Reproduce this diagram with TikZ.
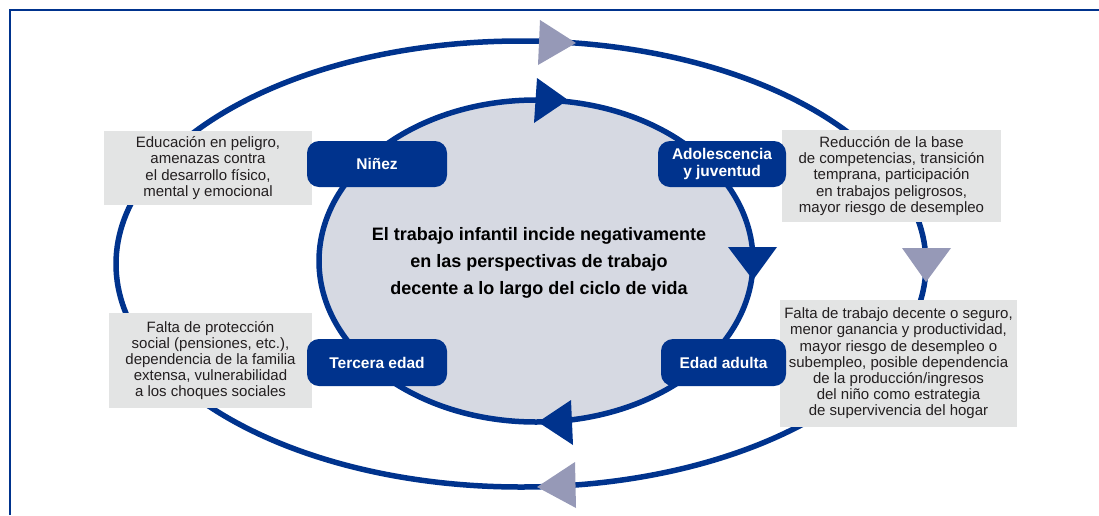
\documentclass[tikz,border=0pt]{standalone}
\usepackage{fontspec}
\setmainfont{Liberation Sans}
\definecolor{ilo}{RGB}{0,51,141}
\definecolor{arrg}{RGB}{150,153,183}
\definecolor{innerf}{RGB}{214,217,226}
\definecolor{boxg}{RGB}{227,228,228}
\definecolor{txt}{RGB}{35,31,32}
\begin{document}
\begin{tikzpicture}[x=1pt,y=-1pt,
  stage/.style={fill=ilo, rounded corners=12pt, text=white,
    font=\fontsize{15.5}{17}\selectfont\bfseries, align=center, inner sep=0pt},
  note/.style={fill=boxg, text=txt, font=\fontsize{15}{16.2}\selectfont,
    align=center, inner sep=0pt},
  ring/.style={draw=ilo, line width=5.5pt},
  darrow/.style={fill=ilo},
  larrow/.style={fill=arrg}]
\useasboundingbox (0,0) rectangle (1099,515);
% frame
\draw[ilo, line width=2.5pt] (10,515) -- (10,10) -- (1099,10);
% outer ring
\coordinate (oc) at (521,264);
\draw[ring] (oc) ellipse [x radius=405pt, y radius=223pt];
% notes
\node[note, minimum width=208pt, minimum height=74pt] (n1) at (208,168)
  {Educación en peligro,\\amenazas contra\\el desarrollo físico,\\mental y emocional};
\node[note, minimum width=219pt, minimum height=92pt] (n2) at (891.5,176)
  {Reducción de la base\\de competencias, transición\\temprana, participación\\en trabajos peligrosos,\\mayor riesgo de desempleo};
\node[note, minimum width=203pt, minimum height=95pt] (n3) at (210.5,360.5)
  {Falta de protección\\social (pensiones, etc.),\\dependencia de la familia\\extensa, vulnerabilidad\\a los choques sociales};
\node[note, minimum width=237pt, minimum height=127pt] (n4) at (898.5,363.5)
  {Falta de trabajo decente o seguro,\\menor ganancia y productividad,\\mayor riesgo de desempleo o\\subempleo, posible dependencia\\de la producción/ingresos\\del niño como estrategia\\de supervivencia del hogar};
% inner ring
\coordinate (ic) at (536,261);
\draw[ring, fill=innerf] (ic) ellipse [x radius=217pt, y radius=161pt];
\node[text=black, font=\fontsize{18}{27}\selectfont\bfseries, align=center] (ct) at (539,263)
  {El trabajo infantil incide negativamente\\en las perspectivas de trabajo\\decente a lo largo del ciclo de vida};
% stage labels
\node[stage, minimum width=140pt, minimum height=46pt] (s1) at (377,164) {Niñez};
\node[stage, minimum width=128pt, minimum height=46pt] (s2) at (722,164) {Adolescencia\\y juventud};
\node[stage, minimum width=125pt, minimum height=47pt] (s3) at (723.5,362.5) {Edad adulta};
\node[stage, minimum width=140pt, minimum height=47pt] (s4) at (377,362.5) {Tercera edad};
% outer arrowheads
\fill[larrow] (540,20) -- (576,43) -- (538,65) -- cycle;
\fill[larrow] (902,248) -- (951,248) -- (926,282) -- cycle;
\fill[larrow] (575,462) -- (537,487) -- (576,508) -- cycle;
% inner arrowheads
\fill[darrow] (537,78) -- (568,100) -- (534,123) -- cycle;
\fill[darrow] (728,247) -- (777,247) -- (753,280) -- cycle;
\fill[darrow] (571,400) -- (538,422) -- (573,445) -- cycle;
\end{tikzpicture}
\end{document}
